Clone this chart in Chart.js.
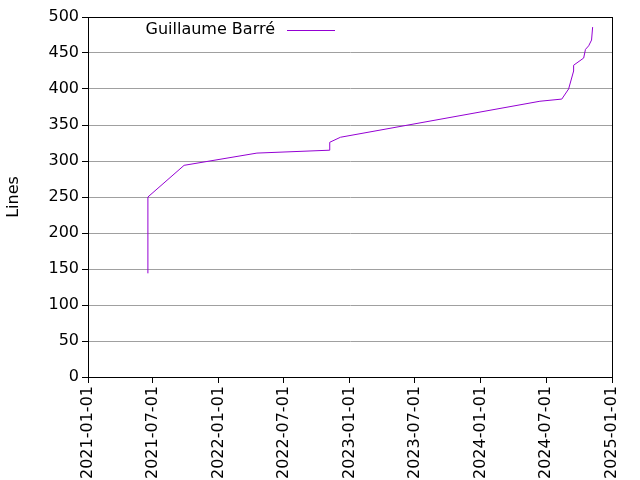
<!DOCTYPE html>
<html><head><meta charset="utf-8">
<script src="https://cdn.jsdelivr.net/npm/chart.js@4"></script>
<style>html,body{margin:0;padding:0;background:#fff}#c{display:block}</style>
</head><body>
<canvas id="c" width="640" height="480"></canvas>
<script>
const dates = ["2021-06-17","2021-06-17","2021-09-26","2022-04-17","2022-11-06","2022-11-06","2022-12-06","2024-06-14","2024-08-14","2024-09-02","2024-09-16","2024-09-16","2024-10-14","2024-10-19","2024-10-28","2024-11-05","2024-11-08"];
const lines = [144,250,294,311,315,326,333,383,386,400,425,433,443,455,460,468,486];
const tickLabels = ["2021-01-01","2021-07-01","2022-01-01","2022-07-01","2023-01-01","2023-07-01","2024-01-01","2024-07-01","2025-01-01"];
const seriesName = "Guillaume Barré";
const ts = s => Date.parse(s + "T00:00:00Z");
const font = {family: "DejaVu Sans", size: 16};
const frame = {
  id: "frame",
  afterDraw(ch) {
    const {ctx, chartArea: a} = ch;
    ctx.save();
    ctx.strokeStyle = "#000"; ctx.lineWidth = 1;
    ctx.strokeRect(a.left + 0.5, a.top + 0.5, a.right - a.left, a.bottom - a.top);
    ctx.font = "16px 'DejaVu Sans'"; ctx.fillStyle = "#000";
    ctx.textAlign = "right"; ctx.textBaseline = "middle";
    ctx.fillText(seriesName, 275, 30);
    ctx.strokeStyle = "#9400d3";
    ctx.beginPath(); ctx.moveTo(287, 30.5); ctx.lineTo(335, 30.5); ctx.stroke();
    ctx.restore();
  }
};
new Chart(document.getElementById("c"), {
  type: "line",
  data: {datasets: [{label: seriesName, data: dates.map((d, i) => ({x: ts(d), y: lines[i]})),
    borderColor: "#9400d3", borderWidth: 1, pointRadius: 0, tension: 0, fill: false}]},
  options: {
    responsive: false, animation: false, devicePixelRatio: 1,
    layout: {padding: {top: 17, right: 28, left: 0, bottom: 0}},
    plugins: {legend: {display: false}, tooltip: {enabled: false}},
    scales: {
      x: {type: "linear", min: ts(tickLabels[0]), max: ts(tickLabels[tickLabels.length - 1]),
        afterBuildTicks: ax => { ax.ticks = tickLabels.map(t => ({value: ts(t)})); },
        afterFit: ax => { ax.height = 103; },
        grid: {display: true, drawOnChartArea: false, color: "#000", tickLength: 6, tickColor: "#000"},
        border: {color: "#000"},
        ticks: {autoSkip: false, maxRotation: 90, minRotation: 90, color: "#000", font,
          callback: (v) => new Date(v).toISOString().slice(0, 10)}},
      y: {min: 0, max: 500,
        afterFit: ax => { ax.width = 88; },
        ticks: {stepSize: 50, color: "#000", font},
        title: {display: true, text: "Lines", color: "#000", font},
        border: {color: "#000"},
        grid: {color: "#a0a0a0", tickColor: "#000", tickLength: 6, lineWidth: 1, dash: [2, 3]}}
    }
  },
  plugins: [frame]
});
</script>
</body></html>
